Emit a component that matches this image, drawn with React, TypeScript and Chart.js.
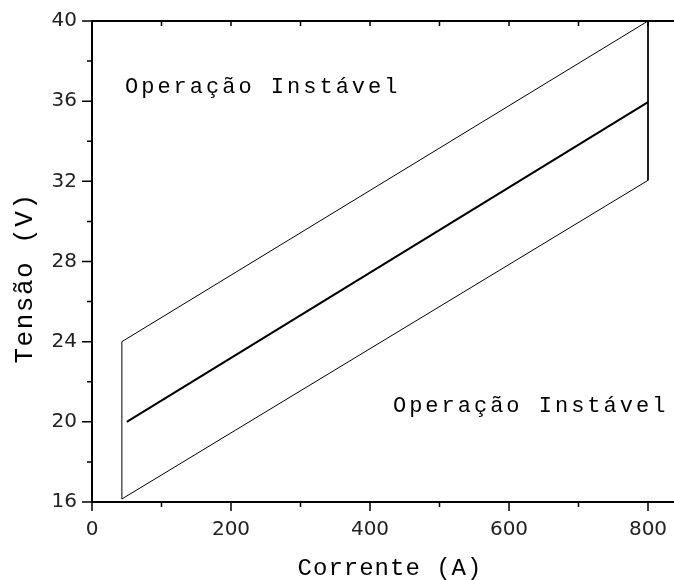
import React, { useEffect, useRef } from "react";
import { Chart, registerables } from "chart.js";

Chart.register(...registerables);

// Band limits (closed outline: left vertical, upper edge, right vertical, lower edge)
const bandCurrent = [43, 43, 800, 800, 43];
const bandVoltage = [16.15, 24, 40, 32.05, 16.15];
// Central characteristic line
const midCurrent = [50, 800];
const midVoltage = [20, 35.95];

const xMajorTicks = [0, 200, 400, 600, 800];
const xMinorTicks = [100, 300, 500, 700];
const xTopTicks = [100, 200, 300, 400, 500, 600, 700, 800];
const yMajorTicks = [16, 20, 24, 28, 32, 36, 40];
const yMinorTicks = [18, 22, 26, 30, 34, 38];

const annotationTexts = ["Operação Instável", "Operação Instável"];
const annotationX = [47.5, 433];
const annotationY = [36.4, 20.5];

const xTitle = "Corrente (A)";
const yTitle = "Tensão (V)";

const MONO = '"Liberation Mono", "Courier New", monospace';
const SANS = '"DejaVu Sans", sans-serif';

const framePlugin = {
  id: "frame",
  afterDraw(chart: any) {
    const { ctx, chartArea, scales } = chart;
    const xs = scales.x;
    const ys = scales.y;
    const { left, right, top, bottom } = chartArea;
    ctx.save();
    ctx.strokeStyle = "#000";
    ctx.lineWidth = 2;
    ctx.beginPath();
    ctx.moveTo(left, top);
    ctx.lineTo(left, bottom);
    ctx.moveTo(left - 1, bottom);
    ctx.lineTo(right, bottom);
    ctx.moveTo(left - 1, top);
    ctx.lineTo(right, top);
    ctx.stroke();

    ctx.lineWidth = 1.5;
    ctx.beginPath();
    for (const v of yMajorTicks) {
      const y = ys.getPixelForValue(v);
      ctx.moveTo(left - 10, y);
      ctx.lineTo(left, y);
    }
    for (const v of yMinorTicks) {
      const y = ys.getPixelForValue(v);
      ctx.moveTo(left - 5, y);
      ctx.lineTo(left, y);
    }
    for (const v of xMajorTicks) {
      const x = xs.getPixelForValue(v);
      ctx.moveTo(x, bottom);
      ctx.lineTo(x, bottom + 9);
    }
    for (const v of xMinorTicks) {
      const x = xs.getPixelForValue(v);
      ctx.moveTo(x, bottom);
      ctx.lineTo(x, bottom + 5);
    }
    for (const v of xTopTicks) {
      const x = xs.getPixelForValue(v);
      ctx.moveTo(x, top);
      ctx.lineTo(x, top + 5);
    }
    ctx.stroke();

    ctx.fillStyle = "#000";
    ctx.textBaseline = "alphabetic";
    ctx.textAlign = "left";
    ctx.font = `22px ${MONO}`;
    (ctx as any).letterSpacing = "3px";
    annotationTexts.forEach((t, i) => {
      ctx.fillText(t, xs.getPixelForValue(annotationX[i]), ys.getPixelForValue(annotationY[i]));
    });

    ctx.textAlign = "center";
    ctx.font = `24px ${MONO}`;
    (ctx as any).letterSpacing = "1px";
    ctx.fillText(xTitle, 390, 575);

    ctx.save();
    ctx.translate(32, 278);
    ctx.rotate(-Math.PI / 2);
    ctx.font = `26px ${MONO}`;
    (ctx as any).letterSpacing = "1.5px";
    ctx.fillText(yTitle, 0, 0);
    ctx.restore();

    ctx.restore();
  },
};

export default function App() {
  const ref = useRef<HTMLCanvasElement>(null);
  useEffect(() => {
    if (!ref.current) return;
    const chart = new Chart(ref.current, {
      type: "scatter",
      data: {
        datasets: [
          {
            data: bandCurrent.map((x, i) => ({ x, y: bandVoltage[i] })),
            showLine: true,
            borderColor: "#000",
            borderWidth: 1,
            pointRadius: 0,
            fill: false,
            tension: 0,
          },
          {
            data: midCurrent.map((x, i) => ({ x, y: midVoltage[i] })),
            showLine: true,
            borderColor: "#000",
            borderWidth: 2,
            pointRadius: 0,
            fill: false,
            tension: 0,
          },
        ],
      },
      options: {
        animation: false,
        responsive: false,
        maintainAspectRatio: false,
        layout: { padding: { top: 21, right: 0, left: 0, bottom: 0 } },
        plugins: { legend: { display: false }, tooltip: { enabled: false } },
        scales: {
          x: {
            type: "linear",
            min: 0,
            max: 837.4,
            afterBuildTicks: (s: any) => {
              s.ticks = xMajorTicks.map((v) => ({ value: v }));
            },
            afterFit: (s: any) => {
              s.height = 78;
              s.paddingLeft = 0;
              s.paddingRight = 0;
            },
            grid: { display: false, drawTicks: false },
            border: { display: false },
            ticks: {
              color: "#222",
              font: { family: SANS, size: 20 },
              padding: 16,
              maxRotation: 0,
            },
          },
          y: {
            type: "linear",
            min: 16,
            max: 40,
            afterBuildTicks: (s: any) => {
              s.ticks = yMajorTicks.map((v) => ({ value: v }));
            },
            afterFit: (s: any) => {
              s.width = 92;
              s.paddingTop = 0;
              s.paddingBottom = 0;
            },
            grid: { display: false, drawTicks: false },
            border: { display: false },
            ticks: {
              color: "#222",
              font: { family: SANS, size: 20 },
              padding: 15,
            },
          },
        },
      },
      plugins: [framePlugin],
    });
    return () => chart.destroy();
  }, []);
  return (
    <div style={{ position: "fixed", left: 0, top: 0, width: 674, height: 580, background: "#fff" }}>
      <canvas ref={ref} width={674} height={580} style={{ width: 674, height: 580 }} />
    </div>
  );
}
